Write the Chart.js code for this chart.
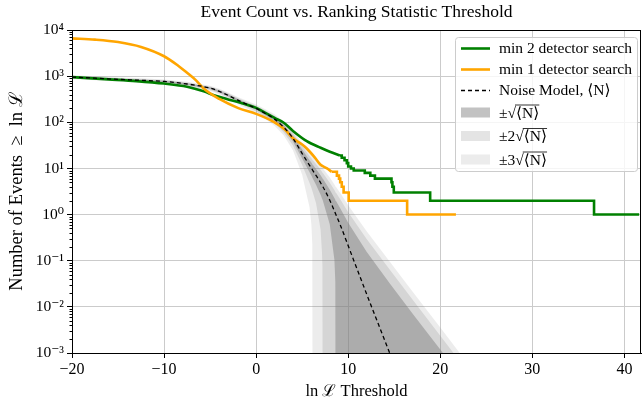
<!DOCTYPE html>
<html>
<head>
<meta charset="utf-8">
<script src="https://cdn.jsdelivr.net/npm/chart.js@4/dist/chart.umd.min.js"></script>
<style>
  html,body{margin:0;padding:0;background:#fff}
  #wrap{width:642px;height:403px}
</style>
</head>
<body>
<div id="wrap"><canvas id="c" width="642" height="403"></canvas></div>
<script>
const F='"Liberation Serif","DejaVu Serif",serif';

// axes
const xTickValues=[-20,-10,0,10,20,30,40];
const yTickValues=[1e-3,1e-2,1e-1,1,1e1,1e2,1e3,1e4];

// min 2 detector search (smooth part, then step part)
const greenX=[-20,-16,-13,-10,-7.5,-5.7,-4.5,-3.2,-1.7,0,1,2,3,4,5.5,7,8,9.1];
const greenY=[950,850,780,690,590,470,380,320,265,205,160,125,98,65,39,28,23,19];
const greenStepX=[9.1,9.3,9.6,9.85,10.0,10.3,10.6,11.8,12.4,12.9,14.7,14.8,14.95,18.9,36.7,41.6];
const greenStepY=[19,17,15,13,11,10,9,8,7,6,5,4,3,2,1,1];

// min 1 detector search
const orangeX=[-20,-17.5,-15,-12.5,-10,-8.5,-7.5,-6.5,-5.7,-4,-2,0,2,3.15,4,5,5.5,6.4,7,7.7,8.2];
const orangeY=[6600,6200,5500,4300,2700,1700,1180,800,540,320,205,152,100,69,45,33,27,17,12,10,8.5];
const orangeStepX=[8.2,8.77,9.0,9.13,9.3,9.5,10.05,16.4,21.7];
const orangeStepY=[8.5,7,6,5,4,3,2,1,1];

// noise model <N>
const noiseX=[-20,-17.5,-15,-12.5,-10,-7.5,-5,-4,-3,-2,-1,0,1,2,3,4,5,5.8,6.0,6.1,6.16,6.5,7.0,7.15,7.2,7.25,8.0,8.5,8.6,8.66,9.13,10,12,14.5,17,20,23];
const noiseY=[955,902,851,813,767,676,550,468,380,302,245,200,155,117,78,45,21,11.7,10.2,9.44,9,7.1,4.9,4.3,4.15,4,2.04,1.2,1.07,1,0.6,0.21,0.019,1e-3,5e-5,1.4e-6,3.8e-8];

const sigmaLevels=[1,2,3];
const bandColors=['rgba(128,128,128,0.48)','rgba(128,128,128,0.21)','rgba(128,128,128,0.15)'];

const pts=(xs,ys)=>xs.map((x,i)=>({x,y:ys[i]}));
const SUP={'-':'\u207B','0':'\u2070','1':'\u00B9','2':'\u00B2','3':'\u00B3','4':'\u2074','5':'\u2075','6':'\u2076','7':'\u2077','8':'\u2078','9':'\u2079'};
const supStr=n=>String(n).split('').map(c=>SUP[c]).join('');

const bandSets=[];
sigmaLevels.forEach((k,j)=>{
  bandSets.push({data:noiseX.map((x,i)=>({x,y:noiseY[i]+k*Math.sqrt(noiseY[i])})),borderWidth:0,pointRadius:0,fill:false,order:10+j*2});
  bandSets.push({data:noiseX.map((x,i)=>({x,y:Math.max(noiseY[i]-k*Math.sqrt(noiseY[i]),1e-9)})),borderWidth:0,pointRadius:0,fill:'-1',backgroundColor:bandColors[j],order:11+j*2});
});

const lineDs=(data,color,order,extra)=>Object.assign({data,borderColor:color,borderWidth:2.6,pointRadius:0,fill:false,order},extra||{});

const datasets=[
  ...bandSets,
  lineDs(pts(greenX,greenY),'#008000',3,{cubicInterpolationMode:'monotone'}),
  lineDs(pts(greenStepX,greenStepY),'#008000',3,{stepped:'before'}),
  lineDs(pts(orangeX,orangeY),'#ffa500',2,{cubicInterpolationMode:'monotone'}),
  lineDs(pts(orangeStepX,orangeStepY),'#ffa500',2,{stepped:'before'}),
  lineDs(pts(noiseX,noiseY),'#000',1,{borderWidth:1.3,borderDash:[4,3],cubicInterpolationMode:'monotone'})
];

// frame, minor ticks, legend
const extras={
  id:'extras',
  afterDatasetsDraw(chart){
    const {ctx,chartArea:a,scales:{y}}=chart;
    ctx.save();
    ctx.strokeStyle='#000';ctx.lineWidth=1;
    ctx.beginPath();
    for(let d=-3;d<4;d++){for(let m=2;m<10;m++){
      const py=Math.round(y.getPixelForValue(m*Math.pow(10,d)))+0.5;
      ctx.moveTo(a.left-2.5,py);ctx.lineTo(a.left,py);
    }}
    ctx.stroke();
    const L=Math.round(a.left)+0.5,T=Math.round(a.top)+0.5,R=Math.round(a.right)-0.5,B=Math.round(a.bottom)+0.5;
    ctx.strokeRect(L,T,R-L,B-T);
    ctx.restore();
  },
  afterDraw(chart){
    const ctx=chart.ctx;
    ctx.save();
    const bx=455.5,by=37.5,bw=182,bh=134,r=3;
    ctx.beginPath();
    ctx.moveTo(bx+r,by);ctx.lineTo(bx+bw-r,by);ctx.quadraticCurveTo(bx+bw,by,bx+bw,by+r);
    ctx.lineTo(bx+bw,by+bh-r);ctx.quadraticCurveTo(bx+bw,by+bh,bx+bw-r,by+bh);
    ctx.lineTo(bx+r,by+bh);ctx.quadraticCurveTo(bx,by+bh,bx,by+bh-r);
    ctx.lineTo(bx,by+r);ctx.quadraticCurveTo(bx,by,bx+r,by);
    ctx.closePath();
    ctx.fillStyle='rgba(255,255,255,0.8)';ctx.fill();
    ctx.strokeStyle='#cccccc';ctx.lineWidth=1;ctx.stroke();

    const size=15.5;
    ctx.font=size+'px '+F;ctx.textBaseline='middle';ctx.fillStyle='#000';
    const tx=499,x0=461,x1=490;
    const line=(yy,color,w,dash)=>{ctx.save();ctx.strokeStyle=color;ctx.lineWidth=w;ctx.setLineDash(dash||[]);ctx.beginPath();ctx.moveTo(x0,yy);ctx.lineTo(x1,yy);ctx.stroke();ctx.restore();};
    line(48.5,'#008000',2.6);ctx.fillText('min 2 detector search',tx,49);
    line(69.5,'#ffa500',2.6);ctx.fillText('min 1 detector search',tx,70);
    line(90.5,'#000',1.3,[4,3]);ctx.fillText('Noise Model, \u27E8N\u27E9',tx,91);
    const rows=[112.5,136,159.5],pre=['\u00B1','\u00B12','\u00B13'];
    rows.forEach((yy,j)=>{
      ctx.fillStyle=bandColors[j];ctx.fillRect(x0,yy-5,x1-x0,10);
      ctx.fillStyle='#000';
      let x=tx;ctx.fillText(pre[j],x,yy+1);x+=ctx.measureText(pre[j]).width;
      ctx.fillText('\u221A',x,yy+1);const sw=ctx.measureText('\u221A').width;x+=sw;
      ctx.fillText('\u27E8N\u27E9',x,yy+1);const nw=ctx.measureText('\u27E8N\u27E9').width;
      ctx.beginPath();ctx.lineWidth=0.8;ctx.strokeStyle='#000';
      ctx.moveTo(x-1,yy-7.5);ctx.lineTo(x+nw,yy-7.5);ctx.stroke();
    });
    ctx.restore();
  }
};

new Chart(document.getElementById('c'),{
  type:'line',
  data:{datasets},
  plugins:[extras],
  options:{
    responsive:false,animation:false,devicePixelRatio:1,
    layout:{padding:{left:0,right:1,top:0,bottom:0}},
    plugins:{
      legend:{display:false},tooltip:{enabled:false},
      title:{display:true,fullSize:false,text:'Event Count vs. Ranking Statistic Threshold',color:'#000',font:{family:F,size:17.5,weight:'normal'},padding:{top:2,bottom:7}}
    },
    scales:{
      x:{
        type:'linear',min:-20,max:41.8,
        afterBuildTicks:s=>{s.ticks=xTickValues.map(v=>({value:v}));},
        afterFit:s=>{s.height=50;},
        ticks:{autoSkip:false,maxRotation:0,padding:2,color:'#000',font:{family:F,size:16},callback:v=>v<0?'\u2212'+Math.abs(v):String(v)},
        grid:{color:'#cbcbcb',lineWidth:1,tickColor:'#000',tickLength:5},
        border:{color:'#000',width:1},
        title:{display:true,text:'ln \u2112 Threshold',color:'#000',font:{family:F,size:16.5},padding:{top:1,bottom:1}}
      },
      y:{
        type:'logarithmic',min:1e-3,max:1e4,
        afterBuildTicks:s=>{s.ticks=yTickValues.map(v=>({value:v,major:true}));},
        afterFit:s=>{s.width=72;},
        ticks:{autoSkip:false,padding:3,color:'#000',font:{family:F,size:15.5},callback:v=>'10'+supStr(Math.round(Math.log10(v)))},
        grid:{color:'#cbcbcb',lineWidth:1,tickColor:'#000',tickLength:5},
        border:{color:'#000',width:1},
        title:{display:true,text:'Number of Events\u2002\u2265\u2002ln \u2112',color:'#000',font:{family:F,size:18.5},padding:{top:6,bottom:0}}
      }
    }
  }
});
</script>
</body>
</html>
